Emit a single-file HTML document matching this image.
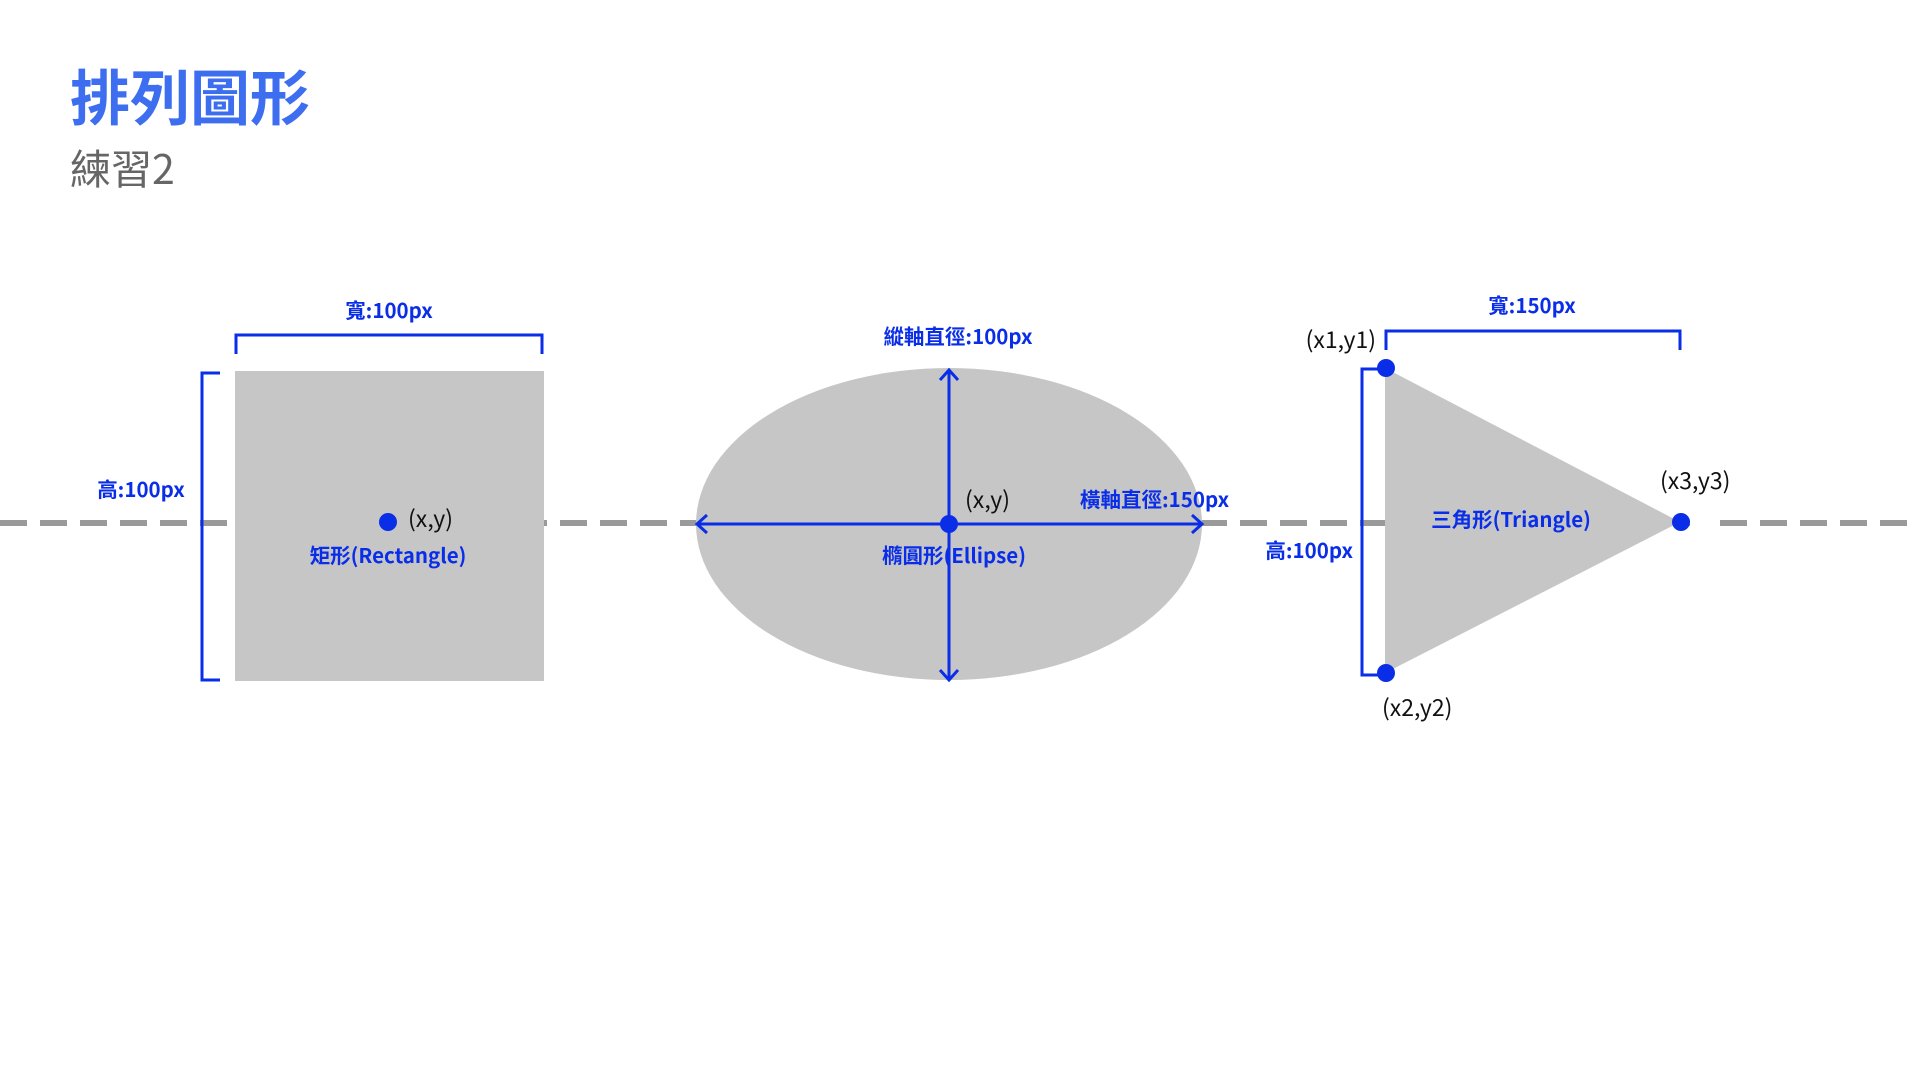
<!DOCTYPE html>
<html><head><meta charset="utf-8"><style>
html,body{margin:0;padding:0;background:#fff;width:1920px;height:1080px;overflow:hidden}
svg{display:block}
text{font-family:"Liberation Sans","Noto Sans CJK TC",sans-serif}
.b{fill:#0a2ee8;font-weight:bold;font-size:20.5px;font-family:"Noto Sans CJK TC","Liberation Sans",sans-serif}
.k{fill:#111;font-size:23px;font-family:"Noto Sans CJK TC","Liberation Sans",sans-serif}
</style></head><body>
<svg width="1920" height="1080" viewBox="0 0 1920 1080" xmlns="http://www.w3.org/2000/svg">
<text x="70" y="120" style="font-family:'Noto Sans CJK TC',sans-serif;font-weight:bold;font-size:60px;fill:#3e6ef0">排列圖形</text>
<text x="70" y="184" style="font-family:'Noto Sans CJK TC',sans-serif;font-size:41px;fill:#666">練習2</text>
<line x1="0" y1="523" x2="1920" y2="523" stroke="#9a9a9a" stroke-width="6" stroke-dasharray="27,13"/>
<rect x="1690" y="518" width="18" height="10" fill="#fff"/>
<!-- rectangle -->
<rect x="235" y="371" width="309" height="310" fill="#c6c6c6"/>
<path d="M236 354 V335 H542 V354" fill="none" stroke="#0a2ee8" stroke-width="3"/>
<path d="M220 373 H202 V680 H220" fill="none" stroke="#0a2ee8" stroke-width="3"/>
<text class="b" x="389" y="318" text-anchor="middle">寬:100px</text>
<text class="b" x="141" y="497" text-anchor="middle">高:100px</text>
<circle cx="388" cy="522" r="9" fill="#0a2ee8"/>
<text class="k" x="408" y="527">(x,y)</text>
<text class="b" x="388" y="563" text-anchor="middle">矩形(Rectangle)</text>
<!-- ellipse -->
<ellipse cx="949" cy="524" rx="253" ry="156" fill="#c6c6c6"/>
<g stroke="#0a2ee8" stroke-width="3" fill="none">
<line x1="949" y1="370" x2="949" y2="680"/>
<line x1="697" y1="524" x2="1202" y2="524"/>
<path d="M940 380 L949 370 L958 380"/>
<path d="M940 670 L949 680 L958 670"/>
<path d="M707 515 L697 524 L707 533"/>
<path d="M1192 515 L1202 524 L1192 533"/>
</g>
<circle cx="949" cy="524" r="9" fill="#0a2ee8"/>
<text class="b" x="958" y="344" text-anchor="middle">縱軸直徑:100px</text>
<text class="k" x="965" y="508">(x,y)</text>
<text class="b" x="1080" y="507">橫軸直徑:150px</text>
<text class="b" x="954" y="563" text-anchor="middle">橢圓形(Ellipse)</text>
<!-- triangle -->
<polygon points="1385,368 1680,522 1385,673" fill="#c6c6c6"/>
<path d="M1386 350 V331 H1680 V350" fill="none" stroke="#0a2ee8" stroke-width="3"/>
<path d="M1385 369 H1362 V675 H1385" fill="none" stroke="#0a2ee8" stroke-width="3"/>
<circle cx="1386" cy="368" r="9" fill="#0a2ee8"/>
<circle cx="1386" cy="673" r="9" fill="#0a2ee8"/>
<circle cx="1681" cy="522" r="9" fill="#0a2ee8"/>
<text class="b" x="1532" y="313" text-anchor="middle">寬:150px</text>
<text class="b" x="1353" y="558" text-anchor="end">高:100px</text>
<text class="k" x="1376" y="348" text-anchor="end">(x1,y1)</text>
<text class="k" x="1660" y="489">(x3,y3)</text>
<text class="k" x="1382" y="716">(x2,y2)</text>
<text class="b" x="1511" y="527" text-anchor="middle">三角形(Triangle)</text>
</svg>
</body></html>
